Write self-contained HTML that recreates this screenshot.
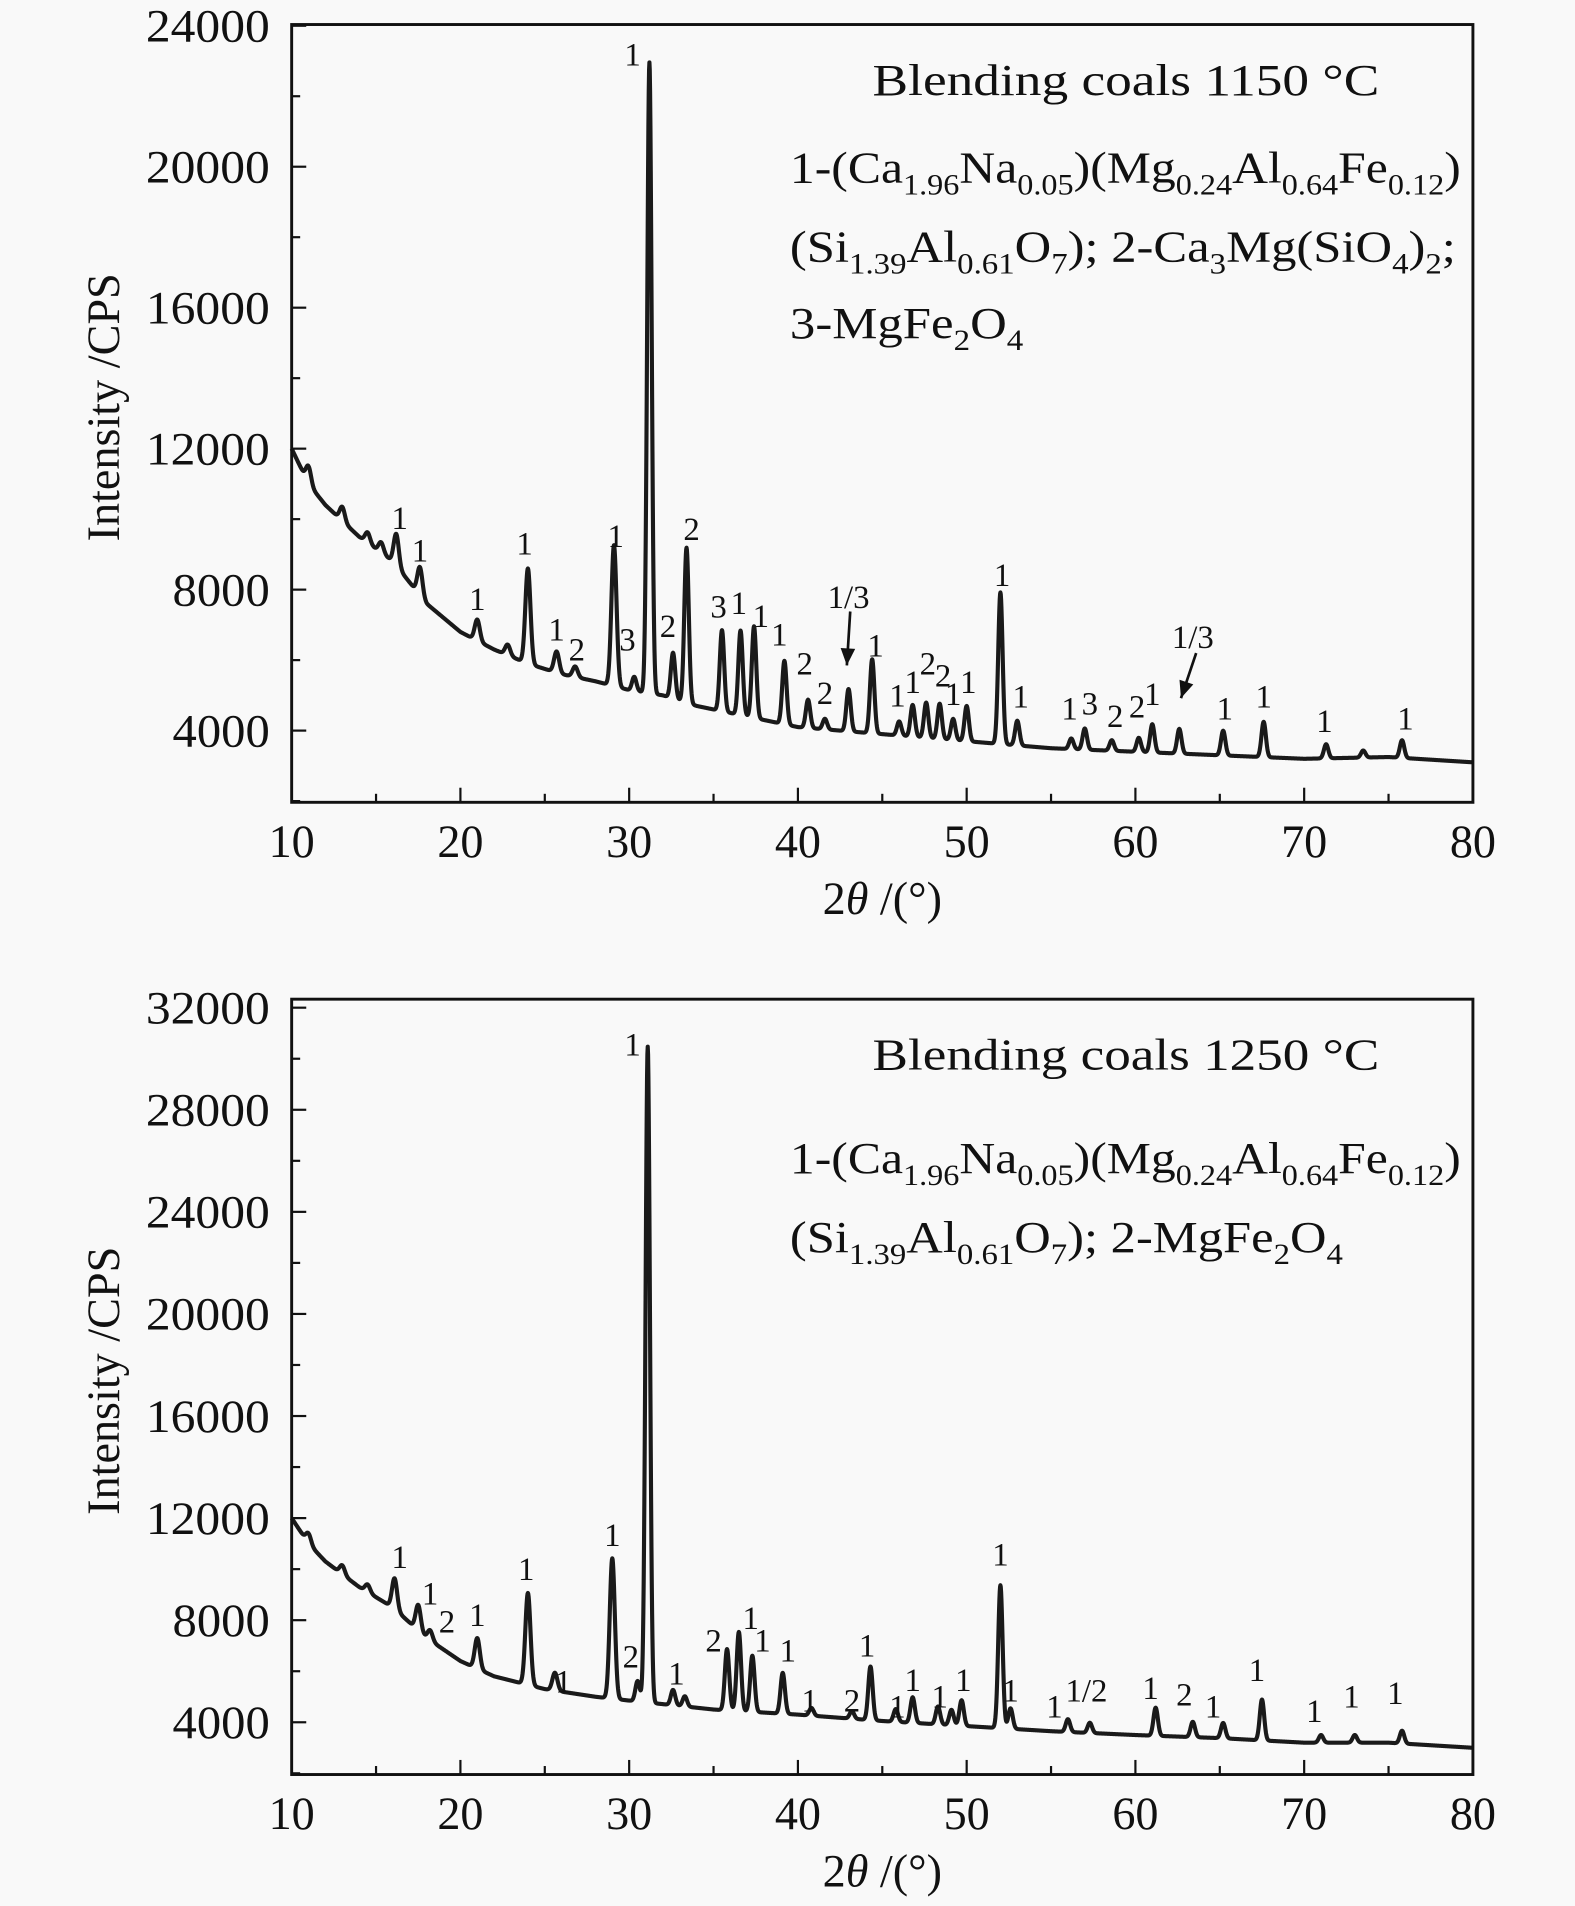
<!DOCTYPE html>
<html><head><meta charset="utf-8">
<style>
html,body{margin:0;padding:0;background:#f9f9f9;}
svg{display:block;}
text{font-family:"Liberation Serif",serif;fill:#111;}
</style></head>
<body>
<svg id="chart" width="1575" height="1906" viewBox="0 0 1296 1568" xmlns="http://www.w3.org/2000/svg">
<rect x="0" y="0" width="1296" height="1568" fill="#f9f9f9"/>
<g id="p1"></g>
<g id="p2"></g>

<text x="718" y="78" font-size="37" textLength="417" lengthAdjust="spacingAndGlyphs">Blending coals  1150 °C</text>
<text x="650" y="150" font-size="37" textLength="552" lengthAdjust="spacingAndGlyphs">1-(Ca<tspan font-size="24" dy="10">1.96</tspan><tspan dy="-10">Na</tspan><tspan font-size="24" dy="10">0.05</tspan><tspan dy="-10">)(Mg</tspan><tspan font-size="24" dy="10">0.24</tspan><tspan dy="-10">Al</tspan><tspan font-size="24" dy="10">0.64</tspan><tspan dy="-10">Fe</tspan><tspan font-size="24" dy="10">0.12</tspan><tspan dy="-10">)</tspan></text>
<text x="650" y="215" font-size="37" textLength="548" lengthAdjust="spacingAndGlyphs">(Si<tspan font-size="24" dy="10">1.39</tspan><tspan dy="-10">Al</tspan><tspan font-size="24" dy="10">0.61</tspan><tspan dy="-10">O</tspan><tspan font-size="24" dy="10">7</tspan><tspan dy="-10">); 2-Ca</tspan><tspan font-size="24" dy="10">3</tspan><tspan dy="-10">Mg(SiO</tspan><tspan font-size="24" dy="10">4</tspan><tspan dy="-10">)</tspan><tspan font-size="24" dy="10">2</tspan><tspan dy="-10">;</tspan></text>
<text x="650" y="278" font-size="37" textLength="192" lengthAdjust="spacingAndGlyphs">3-MgFe<tspan font-size="24" dy="10">2</tspan><tspan dy="-10">O</tspan><tspan font-size="24" dy="10">4</tspan></text>

<text x="718" y="880" font-size="37" textLength="417" lengthAdjust="spacingAndGlyphs">Blending coals  1250 °C</text>
<text x="650" y="965" font-size="37" textLength="552" lengthAdjust="spacingAndGlyphs">1-(Ca<tspan font-size="24" dy="10">1.96</tspan><tspan dy="-10">Na</tspan><tspan font-size="24" dy="10">0.05</tspan><tspan dy="-10">)(Mg</tspan><tspan font-size="24" dy="10">0.24</tspan><tspan dy="-10">Al</tspan><tspan font-size="24" dy="10">0.64</tspan><tspan dy="-10">Fe</tspan><tspan font-size="24" dy="10">0.12</tspan><tspan dy="-10">)</tspan></text>
<text x="650" y="1030" font-size="37" textLength="455" lengthAdjust="spacingAndGlyphs">(Si<tspan font-size="24" dy="10">1.39</tspan><tspan dy="-10">Al</tspan><tspan font-size="24" dy="10">0.61</tspan><tspan dy="-10">O</tspan><tspan font-size="24" dy="10">7</tspan><tspan dy="-10">); 2-MgFe</tspan><tspan font-size="24" dy="10">2</tspan><tspan dy="-10">O</tspan><tspan font-size="24" dy="10">4</tspan></text>
</svg>
<script>
// ---- Panel 1 (1150 °C) data ----
const bg1X = [10,11,12,14,16,18,20,22,24,26,28,30,32,34,36,38,40,45,50,55,60,65,70,75,80];
const bg1Y = [12000,11000,10400,9500,8800,7600,6800,6300,5900,5600,5400,5150,5000,4700,4500,4300,4100,3900,3700,3500,3400,3300,3200,3250,3100];
const pk1Pos = [11,13,14.5,15.3,16.2,17.6,21,22.8,24,25.7,26.8,29.1,30.3,31.2,32.6,33.4,35.5,36.6,37.4,39.2,40.6,41.6,43.0,44.4,46,46.8,47.6,48.4,49.2,50,52,53,56.2,57,58.6,60.2,61,62.6,65.2,67.6,71.3,73.5,75.8];
const pk1Hgt = [500,400,300,300,900,800,600,300,2700,600,300,4000,400,17900,1300,4400,2300,2400,2600,1800,800,300,1200,2100,400,900,1000,1000,600,1000,4300,700,300,600,300,400,800,700,700,1000,400,200,500];
const lb1X = [16.4,17.6,21.0,23.8,25.7,26.9,29.2,29.9,30.2,32.3,33.7,35.3,36.5,37.8,38.9,40.4,41.6,43.0,44.6,45.9,46.8,47.7,48.6,49.2,50.1,52.1,53.2,56.1,57.3,58.8,60.1,61.0,63.4,65.3,67.6,71.2,76.0];
const lb1Y = [10070,9140,7760,9340,6900,6340,9550,6620,23210,7000,9760,7550,7660,7280,6760,5930,5100,7830,6450,5030,5410,5930,5590,5070,5410,8450,5000,4660,4800,4450,4720,5070,6690,4660,5000,4310,4380];
const lb1T = ["1","1","1","1","1","2","1","3","1","2","2","3","1","1","1","2","2","1/3","1","1","1","2","2","1","1","1","1","1","3","2","2","1","1/3","1","1","1","1"];
const y1Ticks = [4000,8000,12000,16000,20000,24000];
const xTicks = [10,20,30,40,50,60,70,80];

// ---- Panel 2 (1250 °C) data ----
const bg2X = [10,11,12,14,16,18,20,22,25,28,30,35,40,45,50,55,60,65,70,75,80];
const bg2Y = [12000,11000,10300,9300,8500,7300,6400,5800,5300,5000,4850,4500,4300,4050,3850,3650,3500,3380,3200,3200,3000];
const pk2Pos = [11,13,14.5,16.1,17.5,18.2,21,24,25.6,29,30.5,31.1,32.6,33.3,35.8,36.5,37.3,39.1,40.8,43.2,44.3,45.8,46.8,48.3,49.1,49.7,52,52.6,56,57.3,61.2,63.4,65.2,67.5,71,73,75.8];
const pk2Hgt = [400,350,300,1200,1000,400,1200,3600,700,5500,800,25700,600,400,2400,3100,2200,1600,300,300,2100,500,1000,700,600,1000,5600,800,500,400,1100,600,600,1600,300,300,500];
const lb2X = [16.4,18.2,19.2,21,23.9,26.1,29,30.1,30.2,32.8,35.0,37.2,37.9,39.4,40.7,43.2,44.1,45.9,46.8,48.4,49.8,52,52.6,55.2,57.1,60.9,62.9,64.6,67.2,70.6,72.8,75.4];
const lb2Y = [10520,9100,8000,8240,10050,5640,11380,6620,30600,5950,7240,8140,7240,6860,4900,4900,7050,4670,5710,5050,5710,10620,5290,4670,5290,5380,5140,4670,6100,4480,5050,5190];
const lb2T = ["1","1","2","1","1","1","1","2","1","1","2","1","1","1","1","2","1","1","1","1","1","1","1","1","1/2","1","2","1","1","1","1","1"];
const y2Ticks = [4000,8000,12000,16000,20000,24000,28000,32000];

const NS = "http://www.w3.org/2000/svg";
function mk(tag, attrs, parent){ const e=document.createElementNS(NS,tag); for(const k in attrs) e.setAttribute(k,attrs[k]); parent.appendChild(e); return e; }
function interp(xs, ys, x){ for(let i=0;i<xs.length-1;i++){ if(x<=xs[i+1]){ const t=(x-xs[i])/(xs[i+1]-xs[i]); return ys[i]+t*(ys[i+1]-ys[i]); } } return ys[ys.length-1]; }

function panel(g, cfg){
  const L=240,R=1212,T=cfg.top,B=cfg.bottom;
  const xs = d => L + (d-10)/(70)*(R-L);
  const ys = v => cfg.y0 - (v-4000)/4000*cfg.per;
  let d="";
  for(let i=0;i<=3500;i++){
    const x=10+i*0.02;
    let v=interp(cfg.bgX,cfg.bgY,x);
    for(let j=0;j<cfg.pPos.length;j++){ const s=cfg.pPos[j]>30?0.13:0.15; const dx=(x-cfg.pPos[j])/s; v+=cfg.pH[j]*Math.exp(-0.5*dx*dx); }
    d+=(i?"L":"M")+xs(x).toFixed(2)+" "+ys(v).toFixed(2);
  }
  const path=mk("path",{d:d,fill:"none",stroke:"#1a1a1a","stroke-width":"3.4","stroke-linejoin":"round"},g);
  
  
  const fr=mk("rect",{x:L,y:T,width:R-L,height:B-T,fill:"none",stroke:"#111","stroke-width":"2.4"},g);
  
  
  for(let v=10;v<=80;v+=5){
    const major=(v%10===0);
    const t=mk("line",{x1:xs(v),x2:xs(v),y1:B,y2:B-(major?12:7),stroke:"#111","stroke-width":"1.8"},g);
    
    
  }
  cfg.xT.forEach(v=>{
    const t=mk("text",{x:xs(v),y:B+45,"font-size":"38","text-anchor":"middle"},g); t.textContent=v;
    
    
  });
  const yTop=cfg.yT[cfg.yT.length-1];
  for(let v=cfg.yT[0]-2000; v<=yTop; v+=2000){
    const major=(v%4000===0);
    const yy=ys(v); if(yy>B||yy<T-2) continue;
    const t=mk("line",{x1:L,x2:L+(major?12:7),y1:yy,y2:yy,stroke:"#111","stroke-width":"1.8"},g);
    
    
  }
  cfg.yT.forEach(v=>{
    const t=mk("text",{x:222,y:ys(v)+13,"font-size":"38","text-anchor":"end",textLength:"102",lengthAdjust:"spacingAndGlyphs"},g); t.textContent=v;
    if(v<10000) t.setAttribute('textLength','80');
    
    
  });
  const xt=mk("text",{x:726,y:B+92,"font-size":"38","text-anchor":"middle"},g);
  xt.innerHTML='2<tspan font-style="italic">θ</tspan> /(°)';
  
  
  const cy=(T+B)/2-5;
  const yt=mk("text",{x:0,y:0,"font-size":"38","text-anchor":"middle",transform:`translate(98 ${cy}) rotate(-90)`},g);
  yt.textContent="Intensity /CPS";
  
  
  for(let i=0;i<cfg.lX.length;i++){
    const t=mk("text",{x:xs(cfg.lX[i]),y:ys(cfg.lY[i])+10,"font-size":"27","text-anchor":"middle"},g);
    t.textContent=cfg.lT[i];
    
    
  }
  (cfg.arrows||[]).forEach(a=>{
    const x1=xs(a[0]),y1=ys(a[1]),x2=xs(a[2]),y2=ys(a[3]);
    const ln=mk("line",{x1:x1,y1:y1,x2:x2,y2:y2,stroke:"#111","stroke-width":"2.2"},g);
    
    
    const ang=Math.atan2(y2-y1,x2-x1), l=14, w=6;
    const bx=x2-l*Math.cos(ang), by=y2-l*Math.sin(ang);
    const p=mk("polygon",{points:`${x2},${y2} ${bx+w*Math.sin(ang)},${by-w*Math.cos(ang)} ${bx-w*Math.sin(ang)},${by+w*Math.cos(ang)}`,fill:"#111"},g);
    
    
  });
}

panel(document.getElementById('p1'),{top:20,bottom:660,y0:601,per:116,bgX:bg1X,bgY:bg1Y,pPos:pk1Pos,pH:pk1Hgt,lX:lb1X,lY:lb1Y,lT:lb1T,yT:y1Ticks,xT:xTicks,
  arrows:[[43.1,7380,42.9,5850],[63.6,6200,62.7,4920]]});
panel(document.getElementById('p2'),{top:822,bottom:1460,y0:1417,per:84,bgX:bg2X,bgY:bg2Y,pPos:pk2Pos,pH:pk2Hgt,lX:lb2X,lY:lb2Y,lT:lb2T,yT:y2Ticks,xT:xTicks});
</script>
</body></html>
